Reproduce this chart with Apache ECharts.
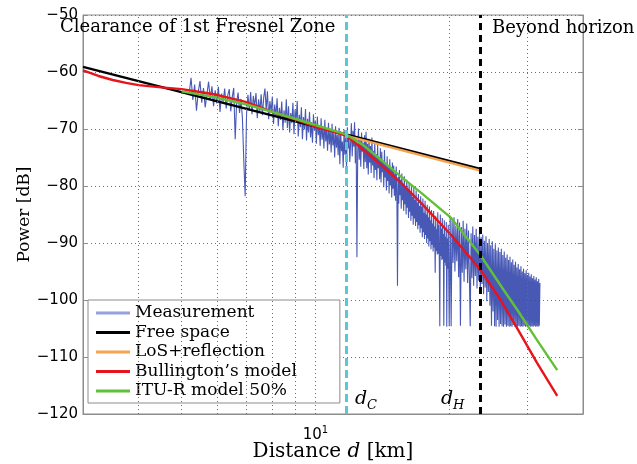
<!DOCTYPE html>
<html>
<head>
<meta charset="utf-8">
<title>Power vs distance</title>
<script src="https://cdn.jsdelivr.net/npm/echarts@6/dist/echarts.min.js"></script>
<style>
  html, body { margin: 0; padding: 0; background: #fff; }
  #chart { width: 637px; height: 464px; }
</style>
</head>
<body>
<div id="chart"></div>
<script>
// distances in km (log axis), powers in dB
var dC = 11.75;
var dH = 23.5;
var xGridLines = [4, 5, 6, 7, 8, 9, 10, 20, 30];

var freeSpace = [[3, -59.1], [23.5, -77.0]];
var losReflection = [[11.75, -71.2], [23.5, -77.3]];
var bullington = [
  [3.0, -59.7], [3.25, -60.7], [3.5, -61.4], [3.75, -61.9], [4.0, -62.3], [4.5, -62.7],
  [5.0, -63.0], [5.5, -63.5], [6.0, -64.0], [7.0, -65.3], [8.0, -67.0], [9.0, -68.3],
  [10.0, -69.6], [11.0, -70.5], [11.75, -71.2], [12.8, -73.6], [14.0, -76.2], [15.6, -79.5],
  [17.3, -83.0], [20.2, -88.6], [23.5, -94.7], [26.1, -100.0], [28.6, -105.3], [31.5, -111.0],
  [35.0, -116.8]
];
var ituR = [
  [5.0, -63.4], [6.0, -64.5], [7.0, -65.7], [8.0, -67.0], [9.0, -68.2], [10.0, -69.3],
  [11.0, -70.3], [11.75, -71.0], [12.8, -72.8], [14.0, -75.3], [15.6, -78.4], [17.3, -81.2],
  [20.2, -85.6], [23.5, -92.1], [26.5, -98.2], [28.5, -101.8], [31.5, -107.0], [35.0, -112.3]
];

// measurement, sampled on three evenly spaced stretches
var measStartA = 5.2, measStepA = 0.05;
var measA = [
  -63.8, -61.0, -64.9, -62.2, -66.8, -63.5, -61.6, -65.4,
  -62.8, -66.2, -63.9, -61.7, -64.8, -62.5, -66.0, -63.2,
  -65.5, -62.6, -67.0, -63.8, -65.2, -62.9, -66.4, -64.1,
  -63.0, -66.9, -64.4, -62.8, -71.8, -65.3, -63.6, -67.2,
  -64.7, -68.0, -75.5, -81.8, -67.3, -64.0, -66.8, -63.5,
  -67.4, -64.2, -66.0, -63.7, -68.1, -64.8, -66.9, -63.9,
  -67.6, -64.5, -62.9, -66.7, -63.4, -68.3, -65.1, -67.0,
  -64.3, -69.1, -65.7, -67.8, -64.6, -69.5, -66.3, -68.4,
  -65.2, -70.2, -66.7, -68.9, -64.8, -69.8, -66.0, -70.6,
  -67.2, -69.0, -65.4, -70.9, -66.6, -68.5, -65.1, -71.3,
  -67.5, -69.7, -66.2, -71.8, -67.9, -70.1, -66.5, -72.0,
  -68.2, -70.6, -67.0, -71.5, -68.8, -72.4, -67.4, -70.3,
  -68.5, -72.6, -67.8, -71.1, -69.3, -73.0, -68.1, -71.9,
  -69.6, -73.4, -68.4, -72.2, -70.0, -73.8, -68.9, -72.7,
  -70.3, -74.1, -69.1, -72.9, -70.7, -75.0, -69.5, -73.3,
  -71.0, -74.6, -69.8, -76.2, -70.4, -73.9, -72.2, -76.8,
  -70.1, -74.5, -71.6, -77.0, -69.7, -73.4, -71.2, -75.8,
  -72.5
];
var measStartB = 12.05, measStepB = 0.05;
var measB = [
  -69.0, -74.8, -70.3, -73.1, -68.8, -76.0, -71.4, -92.5,
  -74.2, -69.9, -75.4, -71.8, -76.6, -70.6, -74.0, -72.4,
  -77.0, -71.1, -75.8, -70.5, -76.9, -72.6, -78.0, -71.7,
  -75.9, -73.0, -77.7, -71.5, -76.4, -73.8, -78.6, -72.3,
  -77.2, -74.4, -79.0, -72.8, -76.9, -74.9, -78.8, -73.4,
  -79.4, -74.0, -77.6, -75.6, -80.2, -73.7, -78.5, -76.1,
  -80.8, -74.8, -79.1, -76.7, -81.3, -75.3, -79.9, -77.0,
  -82.0, -75.9, -80.5, -76.4, -81.7, -77.8, -82.6, -76.6,
  -81.0, -97.5, -78.4, -83.1, -77.2, -81.6, -78.9, -84.0,
  -77.8, -82.5, -79.6, -84.4, -78.3, -83.2, -80.1, -85.0,
  -78.9, -83.8, -80.7, -85.6, -79.4, -84.5, -81.2, -86.1,
  -79.8, -85.2, -81.9, -86.8, -80.3, -85.7, -82.4, -87.0,
  -80.8, -86.3, -82.9, -87.6, -81.4, -86.9, -83.5, -88.2,
  -81.8, -87.4, -83.6, -89.0, -82.2, -88.1, -84.7, -89.3,
  -82.6, -88.6, -85.0, -90.0, -83.3, -89.2, -85.5, -90.6,
  -83.6, -89.7, -86.0, -91.1, -84.2, -90.3, -86.6, -91.5,
  -84.4, -90.8, -87.1, -95.2, -85.2, -91.4, -87.6, -92.0,
  -84.6, -91.9, -86.8, -92.6, -104.6, -85.0, -92.3, -87.5,
  -93.0, -85.6, -92.8, -88.4, -104.5, -86.0, -93.4, -88.9,
  -94.0, -86.3, -104.7, -89.2, -94.5, -86.8, -95.0, -104.6
];
var measStartC = 20.1, measStepC = 0.1;
var measC = [
  -85.2, -104.6, -86.0, -93.5, -85.5, -95.0, -87.0, -93.2,
  -85.8, -96.0, -86.4, -104.5, -87.2, -95.2, -86.1, -96.8,
  -87.5, -94.6, -86.6, -97.0, -87.8, -95.5, -104.6, -88.3,
  -96.2, -87.1, -97.5, -88.6, -95.8, -87.5, -98.0, -88.9,
  -96.6, -88.2, -98.4, -89.0, -97.2, -88.5, -99.0, -89.6,
  -97.8, -88.8, -100.2, -90.0, -98.6, -89.3, -101.0, -90.4,
  -104.5, -89.7, -102.0, -91.0, -104.6, -90.2, -104.7, -91.3,
  -103.5, -90.8, -104.7, -91.6, -104.2, -91.0, -104.6, -92.1,
  -104.7, -91.5, -104.3, -92.6, -104.7, -92.0, -104.5, -93.0,
  -104.7, -92.4, -104.6, -93.4, -104.7, -92.9, -104.4, -93.8,
  -104.7, -93.3, -104.6, -94.3, -104.7, -93.7, -104.5, -94.6,
  -104.7, -94.1, -104.6, -95.0, -104.7, -94.5, -104.5, -95.3,
  -104.7, -94.8, -104.6, -95.6, -104.7, -95.2, -104.5, -95.9,
  -104.7, -95.5, -104.6, -96.2, -104.7, -95.8, -104.5, -96.4,
  -104.7, -96.0, -104.6, -96.7, -104.7, -96.3, -104.5, -97.0
];

function pairs(start, step, values) {
  return values.map(function (v, i) { return [+(start + i * step).toFixed(2), v]; });
}
var measurement = pairs(measStartA, measStepA, measA)
  .concat(pairs(measStartB, measStepB, measB))
  .concat(pairs(measStartC, measStepC, measC));

var serif = '"DejaVu Serif", serif';
var sans = '"DejaVu Sans", sans-serif';
var frame = '#8c8c8c';

var chart = echarts.init(document.getElementById('chart'));

function lineSeries(name, data, color, width, z) {
  return {
    name: name, type: 'line', data: data, symbol: 'none', showSymbol: false,
    lineStyle: { color: color, width: width }, itemStyle: { color: color },
    z: z, silent: true, animation: false
  };
}

var meas = lineSeries('Measurement', measurement, '#3446ad', 1.1, 2);
meas.lineStyle.opacity = 0.9;

chart.setOption({
  animation: false,
  backgroundColor: '#fff',
  grid: {
    left: 83, right: 54, top: 15, bottom: 50,
    outerBoundsMode: 'none', containLabel: false,
    show: true, borderColor: frame, borderWidth: 1, backgroundColor: '#fff'
  },
  legend: {
    orient: 'vertical', left: 88, top: 300,
    icon: 'rect',
    data: [
      { name: 'Measurement', itemStyle: { color: '#97a0e0' } },
      'Free space', 'LoS+reflection', "Bullington\u2019s model", 'ITU-R model 50%'
    ],
    itemWidth: 34, itemHeight: 3, itemGap: 2.5,
    padding: [4.5, 43, 3.5, 8],
    backgroundColor: '#fff', borderColor: frame, borderWidth: 1, borderRadius: 0,
    selectedMode: false,
    textStyle: { fontFamily: serif, fontSize: 17, color: '#000', lineHeight: 17 }
  },
  xAxis: {
    type: 'log', logBase: 10, min: 3, max: 40,
    axisLine: { show: true, lineStyle: { color: frame } },
    axisTick: { show: false },
    splitLine: { show: false },
    axisLabel: {
      margin: 11,
      formatter: function (v) { return Math.abs(v - 10) < 1e-6 ? '{b|10}{s|1}' : ''; },
      rich: {
        b: { fontFamily: sans, fontSize: 15, color: '#000', lineHeight: 20 },
        s: { fontFamily: sans, fontSize: 10, color: '#000', verticalAlign: 'top', lineHeight: 10 }
      }
    },
    name: '{n|Distance }{i|d}{n| [km]}',
    nameLocation: 'middle', nameGap: 28, nameMoveOverlap: false,
    nameTextStyle: {
      rich: {
        n: { fontFamily: serif, fontSize: 20, color: '#000' },
        i: { fontFamily: serif, fontStyle: 'italic', fontSize: 20, color: '#000' }
      }
    }
  },
  yAxis: [{
    type: 'value', min: -120, max: -50, interval: 10,
    axisLine: { show: true, lineStyle: { color: frame } },
    axisTick: { show: true, inside: true, length: 5, lineStyle: { color: frame } },
    axisLabel: {
      margin: 5, fontFamily: sans, fontSize: 15, color: '#000',
      formatter: function (v) { return String(v).replace('-', '\u2212'); }
    },
    splitLine: { show: true, lineStyle: { color: '#6e6e6e', type: [1, 3], width: 1 } },
    name: 'Power [dB]', nameLocation: 'middle', nameGap: 50, nameMoveOverlap: false,
    nameTextStyle: { fontFamily: serif, fontSize: 17, color: '#000' }
  }, {
    type: 'value', position: 'right', min: -120, max: -50, interval: 10,
    axisLine: { show: true, lineStyle: { color: frame } },
    axisTick: { show: true, inside: true, length: 5, lineStyle: { color: frame } },
    axisLabel: { show: false },
    splitLine: { show: false }
  }],
  graphic: [
    { type: 'text', x: 60, y: 27, z: 100, style: { text: 'Clearance of 1st Fresnel Zone', font: '18px ' + serif, fill: '#000', verticalAlign: 'middle' } },
    { type: 'text', x: 492, y: 28, z: 100, style: { text: 'Beyond horizon', font: '18px ' + serif, fill: '#000', verticalAlign: 'middle' } },
    { type: 'text', x: 355, y: 399, z: 100, style: { text: 'd', font: 'italic 19px ' + serif, fill: '#000', verticalAlign: 'middle' } },
    { type: 'text', x: 367, y: 406, z: 100, style: { text: 'C', font: 'italic 13px ' + serif, fill: '#000', verticalAlign: 'middle' } },
    { type: 'text', x: 441, y: 399, z: 100, style: { text: 'd', font: 'italic 19px ' + serif, fill: '#000', verticalAlign: 'middle' } },
    { type: 'text', x: 453, y: 406, z: 100, style: { text: 'H', font: 'italic 13px ' + serif, fill: '#000', verticalAlign: 'middle' } }
  ],
  series: [
    {
      name: 'grid', type: 'line', data: [], z: 1, silent: true,
      markLine: {
        silent: true, symbol: ['none', 'none'], label: { show: false },
        lineStyle: { color: '#6e6e6e', type: [1, 3], width: 1 },
        emphasis: { disabled: true },
        data: xGridLines.map(function (d) { return { xAxis: d }; })
      }
    },
    meas,
    lineSeries('Free space', freeSpace, '#000000', 2.4, 3),
    lineSeries('LoS+reflection', losReflection, '#f7a24c', 2.4, 3),
    lineSeries("Bullington\u2019s model", bullington, '#e8131b', 2.4, 4),
    lineSeries('ITU-R model 50%', ituR, '#62c038', 2.4, 4),
    {
      name: 'bounds', type: 'line', data: [], z: 6, silent: true,
      markLine: {
        silent: true, symbol: ['none', 'none'], label: { show: false },
        emphasis: { disabled: true },
        data: [
          { xAxis: dC, lineStyle: { color: '#5ac7d6', type: [8, 4], width: 3 } },
          { xAxis: dH, lineStyle: { color: '#000000', type: [7, 5], width: 3 } }
        ]
      }
    }
  ]
});
</script>
</body>
</html>
